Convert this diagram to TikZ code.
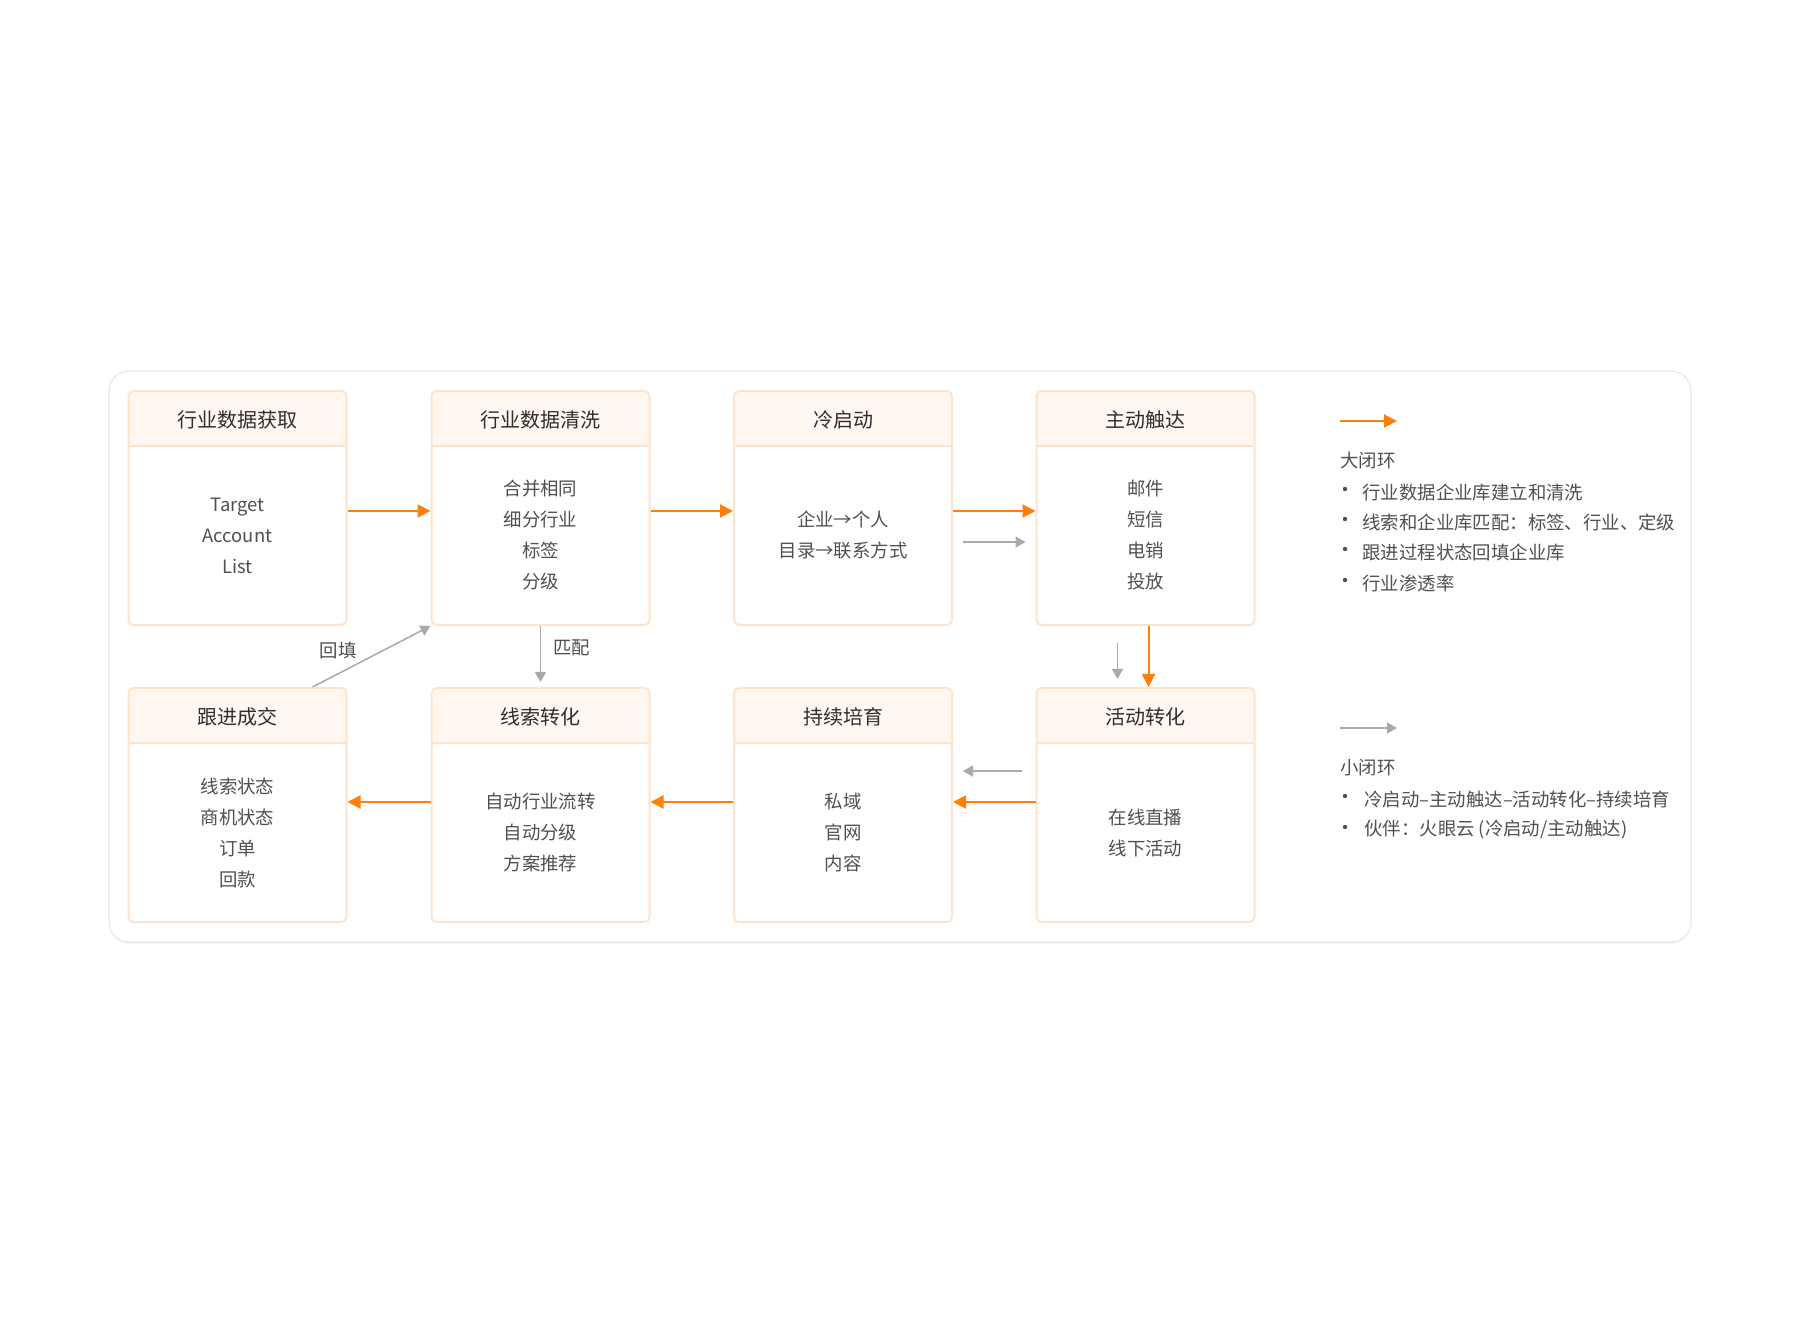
\documentclass[tikz,border=0pt]{standalone}
\usepackage{fontspec}
\setmainfont{Noto Sans CJK SC}
\usetikzlibrary{arrows.meta,shadows}
\definecolor{loopor}{HTML}{FF7F0A}
\definecolor{loopgray}{HTML}{AAAAAA}
\definecolor{boxline}{HTML}{FFE3CC}
\definecolor{headfill}{HTML}{FFF7F0}
\definecolor{titletext}{HTML}{2E2E2E}
\definecolor{bodytext}{HTML}{505050}
\definecolor{panelline}{HTML}{E8E8E8}
\tikzset{
  box/.style={draw=boxline, line width=1pt, rounded corners=2.5pt,
    minimum width=109pt, minimum height=117pt, inner sep=0pt,
    path picture={
      \fill[headfill] (path picture bounding box.north west) rectangle ([yshift=-27.5pt]path picture bounding box.north east);
      \draw[boxline, line width=1pt] ([yshift=-27.5pt]path picture bounding box.north west) -- ([yshift=-27.5pt]path picture bounding box.north east);
    }},
  boxtitle/.style={font=\fontsize{10pt}{12pt}\selectfont, text=titletext},
  boxbody/.style={font=\fontsize{9.2pt}{15.5pt}\selectfont, text=bodytext, align=center},
  note/.style={font=\fontsize{9.2pt}{12pt}\selectfont, text=bodytext, anchor=west, inner sep=0pt},
  edgelabel/.style={font=\fontsize{9.2pt}{12pt}\selectfont, text=bodytext, inner sep=3pt},
  bigloop/.style={draw=loopor, fill=loopor, line width=1pt, ->, >={Triangle[length=6.5pt, width=6.5pt]}},
  smallloop/.style={draw=loopgray, fill=loopgray, line width=0.75pt, ->, >={Triangle[length=5pt, width=5.5pt]}},
}
\begin{document}
\begin{tikzpicture}[x=0.5pt,y=-0.5pt]
\useasboundingbox (0,0) rectangle (1800,1320);

% panel
\draw[panelline, fill=white, rounded corners=10pt, line width=0.6pt,
  drop shadow={opacity=0.06, shadow xshift=0pt, shadow yshift=-1pt}] (109,371) rectangle (1691,942);

% top row
\node[box] (1) at (237.5,508) {};
\node[box] (2) at (540.5,508) {};
\node[box] (3) at (843,508) {};
\node[box] (4) at (1145.5,508) {};
% bottom row
\node[box] (5) at (1145.5,805) {};
\node[box] (6) at (843,805) {};
\node[box] (7) at (540.5,805) {};
\node[box] (8) at (237.5,805) {};

% titles
\node[boxtitle] (1t) at ([yshift=-15pt]1.north) {行业数据获取};
\node[boxtitle] (2t) at ([yshift=-15pt]2.north) {行业数据清洗};
\node[boxtitle] (3t) at ([yshift=-15pt]3.north) {冷启动};
\node[boxtitle] (4t) at ([yshift=-15pt]4.north) {主动触达};
\node[boxtitle] (5t) at ([yshift=-15pt]5.north) {活动转化};
\node[boxtitle] (6t) at ([yshift=-15pt]6.north) {持续培育};
\node[boxtitle] (7t) at ([yshift=-15pt]7.north) {线索转化};
\node[boxtitle] (8t) at ([yshift=-15pt]8.north) {跟进成交};

% contents
\node[boxbody] (1b) at ([yshift=-13.75pt]1.center) {Target\\Account\\List};
\node[boxbody] (2b) at ([yshift=-13.75pt]2.center) {合并相同\\细分行业\\标签\\分级};
\node[boxbody] (3b) at ([yshift=-13.75pt]3.center) {企业→个人\\目录→联系方式};
\node[boxbody] (4b) at ([yshift=-13.75pt]4.center) {邮件\\短信\\电销\\投放};
\node[boxbody] (5b) at ([yshift=-13.75pt]5.center) {在线直播\\线下活动};
\node[boxbody] (6b) at ([yshift=-13.75pt]6.center) {私域\\官网\\内容};
\node[boxbody] (7b) at ([yshift=-13.75pt]7.center) {自动行业流转\\自动分级\\方案推荐};
\node[boxbody] (8b) at ([yshift=-13.75pt]8.center) {线索状态\\商机状态\\订单\\回款};

% big loop
\draw [bigloop] ([yshift=-1.5pt]1.east) -- ([yshift=-1.5pt]2.west);
\draw [bigloop] ([yshift=-1.5pt]2.east) -- ([yshift=-1.5pt]3.west);
\draw [bigloop] ([yshift=-1.5pt]3.east) -- ([yshift=-1.5pt]4.west);
\draw [bigloop] ([xshift=1.5pt]4.south) -- ([xshift=1.5pt]5.north);
\draw [bigloop] ([yshift=1.5pt]5.west) -- ([yshift=1.5pt]6.east);
\draw [bigloop] ([yshift=1.5pt]6.west) -- ([yshift=1.5pt]7.east);
\draw [bigloop] ([yshift=1.5pt]7.west) -- ([yshift=1.5pt]8.east);

% small loop
\draw [smallloop] ([xshift=5pt,yshift=-17pt]3.east) -- ([xshift=-5pt,yshift=-17pt]4.west);
\draw [smallloop] ([xshift=-14pt,yshift=-8.5pt]4.south) -- ([xshift=-14pt,yshift=4pt]5.north);
\draw [smallloop] ([xshift=-7pt,yshift=17pt]5.west) -- ([xshift=5pt,yshift=17pt]6.east);
\draw [smallloop] (2.south) -- node[edgelabel, right=3pt, yshift=3pt] {匹配} ([yshift=2.5pt]7.north);
\draw [smallloop] ([xshift=37.5pt]8.north) -- node[edgelabel, pos=0.6, left=10pt] {回填} (2.south west);

% legend
\coordinate (bigA) at (1340,421);
\coordinate (bigB) at (1397,421);
\draw [bigloop] (bigA) -- (bigB);
\node[note] (bigT) at (1340,461) {大闭环};
\node[note] (big1) at (1362,492) {行业数据企业库建立和清洗};
\node[note] (big2) at (1362,522) {线索和企业库匹配：标签、行业、定级};
\node[note] (big3) at (1362,552) {跟进过程状态回填企业库};
\node[note] (big4) at (1362,583) {行业渗透率};
\foreach \y in {489,519,549,580} \fill[bodytext] (1345,\y) circle (1.1pt);

\coordinate (smallA) at (1340,728);
\coordinate (smallB) at (1397,728);
\draw [smallloop] (smallA) -- (smallB);
\node[note] (smallT) at (1340,768) {小闭环};
\node[note] (small1) at (1364,799) {冷启动–主动触达–活动转化–持续培育};
\node[note] (small2) at (1364,830) {伙伴：火眼云 (冷启动/主动触达)};
\foreach \y in {796,827} \fill[bodytext] (1345,\y) circle (1.1pt);
\end{tikzpicture}
\end{document}
